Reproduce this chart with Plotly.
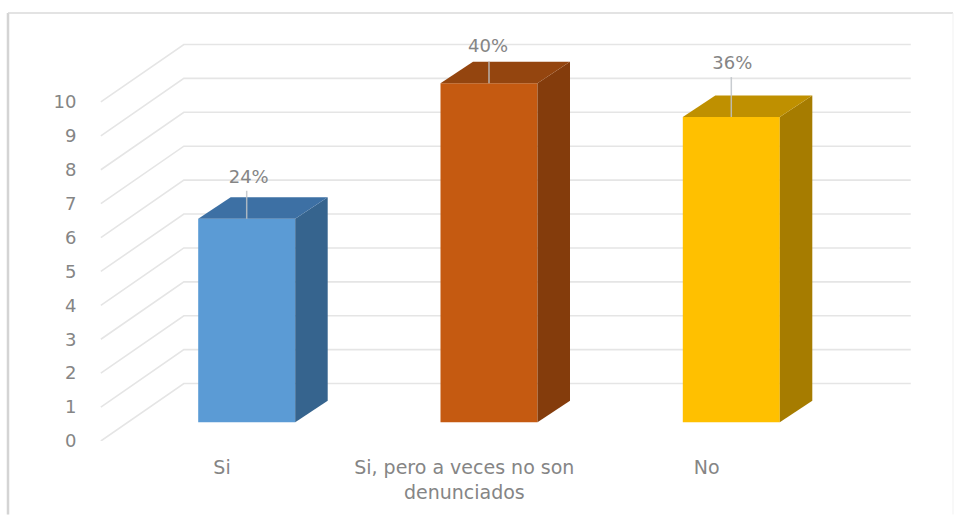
import plotly.graph_objects as go

# --- data ---
categories = ["Si", "Si, pero a veces no son<br>denunciados", "No"]
values = [6, 10, 9]
percent_labels = ["24%", "40%", "36%"]
y_ticks = list(range(0, 11))

# --- styles ---
front_colors = ["#5B9BD5", "#C55A11", "#FFC000"]
top_colors = ["#3D70A4", "#94450F", "#BF9000"]
side_colors = ["#36648E", "#843C0C", "#A67C00"]
text_color = "#858585"
grid_color = "#E5E5E5"
leader_color = "rgba(190,195,200,0.85)"

# --- layout geometry (pixels) ---
W, H = 959, 515
PX_PER_CAT, PX_PER_UNIT = 242.3, 33.95
LEFT, RIGHT, TOP, BOTTOM = 84, 930, 20, 441.5
CAT0_PX = 222

def cx(px):  # horizontal pixel distance -> category units
    return px / PX_PER_CAT

def vy(px):  # vertical pixel distance -> value units
    return px / PX_PER_UNIT

x_range = [cx(LEFT - CAT0_PX), cx(RIGHT - CAT0_PX)]
y_range = [0, vy(BOTTOM - TOP)]

WALL_DX, WALL_DY = cx(83), vy(57.5)      # side wall depth
BAR_DX, BAR_DY = cx(24.7), vy(18.8)      # bar front plane
DEPTH_DX, DEPTH_DY = cx(32.5), vy(21.5)  # bar depth
BAR_WIDTH = cx(97)
label_raise = [vy(40.5), vy(36), vy(53)]
leader_raise = [vy(28), vy(22), vy(40)]
label_shift = [cx(2), cx(-1), cx(1)]

fig = go.Figure()

# walls: gridlines run along the side wall and then along the back wall
wall_left, wall_right = -0.5, len(categories) - 0.5
for t in y_ticks:
    fig.add_trace(go.Scatter(
        x=[wall_left, wall_left + WALL_DX, wall_right + WALL_DX],
        y=[t, t + WALL_DY, t + WALL_DY],
        mode="lines", line=dict(color=grid_color, width=1.6),
        hoverinfo="skip", showlegend=False, xaxis="x", yaxis="y",
    ))

# front faces
fig.add_trace(go.Bar(
    x=[i + BAR_DX for i in range(len(categories))],
    y=values, base=[BAR_DY] * len(values), width=BAR_WIDTH,
    marker=dict(color=front_colors, line=dict(width=0)),
    showlegend=False, xaxis="x2", yaxis="y2", hoverinfo="skip",
))

# side and top faces
for i, v in enumerate(values):
    x0 = i + BAR_DX - BAR_WIDTH / 2
    x1 = i + BAR_DX + BAR_WIDTH / 2
    y0 = BAR_DY
    y1 = BAR_DY + v
    fig.add_trace(go.Scatter(
        x=[x1, x1 + DEPTH_DX, x1 + DEPTH_DX, x1, x1],
        y=[y0, y0 + DEPTH_DY, y1 + DEPTH_DY, y1, y0],
        mode="lines", fill="toself", fillcolor=side_colors[i],
        line=dict(width=0), hoverinfo="skip", showlegend=False,
        xaxis="x2", yaxis="y2",
    ))
    fig.add_trace(go.Scatter(
        x=[x0, x1, x1 + DEPTH_DX, x0 + DEPTH_DX, x0],
        y=[y1, y1, y1 + DEPTH_DY, y1 + DEPTH_DY, y1],
        mode="lines", fill="toself", fillcolor=top_colors[i],
        line=dict(width=0), hoverinfo="skip", showlegend=False,
        xaxis="x2", yaxis="y2",
    ))
    # leader line
    xc = i + BAR_DX
    fig.add_trace(go.Scatter(
        x=[xc, xc], y=[y1, y1 + leader_raise[i]],
        mode="lines", line=dict(color=leader_color, width=1.5),
        hoverinfo="skip", showlegend=False, xaxis="x2", yaxis="y2",
    ))

# data labels
fig.add_trace(go.Scatter(
    x=[i + BAR_DX + s for i, s in enumerate(label_shift)],
    y=[BAR_DY + v + r for v, r in zip(values, label_raise)],
    mode="text", text=percent_labels, textposition="middle center",
    textfont=dict(family="DejaVu Sans", size=18, color=text_color),
    hoverinfo="skip", showlegend=False, xaxis="x2", yaxis="y2",
))

# outer chart frame, drawn in paper coordinates
def px_x(p):
    return (p - LEFT) / (RIGHT - LEFT)

def px_y(p):
    return (BOTTOM - p) / (BOTTOM - TOP)

frame = [
    (8, 13, 8, 515, "#D4D4D4", 2.5),
    (8, 13, 953, 13, "#DADADA", 1.5),
    (953, 13, 953, 515, "#F1F1F1", 1),
]
shapes = [
    dict(type="line", xref="paper", yref="paper",
         x0=px_x(a), y0=px_y(b), x1=px_x(c), y1=px_y(d),
         line=dict(color=col, width=wd), layer="below")
    for a, b, c, d, col, wd in frame
]

fig.update_layout(
    width=W, height=H, autosize=False,
    paper_bgcolor="white", plot_bgcolor="rgba(0,0,0,0)",
    margin=dict(l=LEFT, r=W - RIGHT, t=TOP, b=H - BOTTOM, pad=0),
    shapes=shapes, showlegend=False, hovermode=False,
    xaxis=dict(
        range=x_range, tickmode="array", tickvals=list(range(len(categories))),
        ticktext=categories, showgrid=False, zeroline=False, showline=False,
        automargin=False,
        ticks="outside", ticklen=9, tickcolor="rgba(0,0,0,0)",
        tickangle=0, tickfont=dict(family="DejaVu Sans", size=19, color=text_color),
    ),
    yaxis=dict(
        range=y_range, tickmode="array", tickvals=y_ticks,
        showgrid=False, zeroline=False, showline=False,
        automargin=False,
        ticks="outside", ticklen=3, tickcolor="rgba(0,0,0,0)",
        tickfont=dict(family="DejaVu Sans", size=18, color=text_color),
    ),
    xaxis2=dict(range=x_range, overlaying="x", visible=False),
    yaxis2=dict(range=y_range, overlaying="y", visible=False),
)

fig.write_html(
    "out.html",
    config={"displayModeBar": False, "staticPlot": True},
    post_script="document.body.style.margin='0';document.body.style.overflow='hidden';",
)
